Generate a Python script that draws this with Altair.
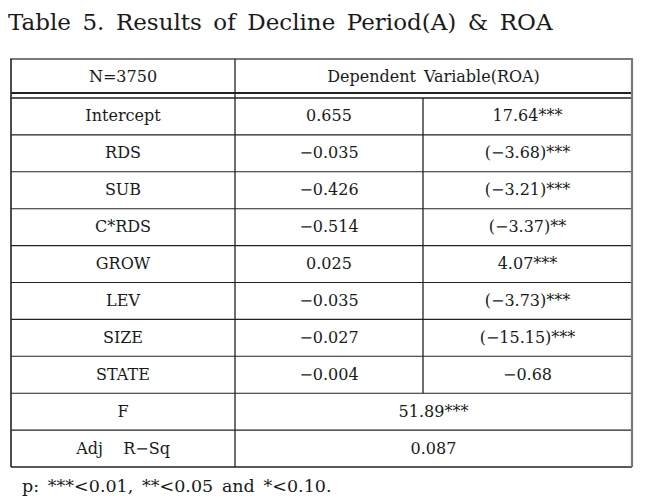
import altair as alt
import pandas as pd

# ---- data ----
title_text = "Table\u20025.\u2002Results\u2002of\u2002Decline\u2002Period(A)\u2002&\u2002ROA"
header_left = "N=3750"
header_right = "Dependent\u2002Variable(ROA)"
variables = ["Intercept", "RDS", "SUB", "C*RDS", "GROW", "LEV", "SIZE", "STATE"]
coefficients = ["0.655", "\u22120.035", "\u22120.426", "\u22120.514", "0.025", "\u22120.035", "\u22120.027", "\u22120.004"]
t_values = ["17.64***", "(\u22123.68)***", "(\u22123.21)***", "(\u22123.37)**", "4.07***",
            "(\u22123.73)***", "(\u221215.15)***", "\u22120.68"]
summary_labels = ["F", "Adj\u00a0\u00a0\u00a0\u00a0R\u2212Sq"]
summary_values = ["51.89***", "0.087"]
footnote = "p:\u2002***<0.01,\u2002**<0.05\u2002and\u2002*<0.10."

# ---- layout (page pixels) ----
W, H = 637, 488
X_L, X_C1, X_C2, X_R = 11, 235, 423, 632
Y_T, Y_H, Y_B0, Y_BOT = 59, 93, 98, 467
n_rows = len(variables) + len(summary_labels)
rh = (Y_BOT - Y_B0) / n_rows

texts = []
texts.append(dict(x=(X_L + X_C1) / 2, y=(Y_T + Y_H) / 2 + 1, t=header_left))
texts.append(dict(x=(X_C1 + X_R) / 2, y=(Y_T + Y_H) / 2 + 1, t=header_right))
for i, (v, c, tv) in enumerate(zip(variables, coefficients, t_values)):
    yc = Y_B0 + rh * (i + 0.5)
    texts.append(dict(x=(X_L + X_C1) / 2, y=yc, t=v))
    texts.append(dict(x=(X_C1 + X_C2) / 2, y=yc, t=c))
    texts.append(dict(x=(X_C2 + X_R) / 2, y=yc, t=tv))
for j, (lab, val) in enumerate(zip(summary_labels, summary_values)):
    yc = Y_B0 + rh * (len(variables) + j + 0.5)
    texts.append(dict(x=(X_L + X_C1) / 2, y=yc, t=lab))
    texts.append(dict(x=(X_C1 + X_R) / 2, y=yc, t=val))
cells = pd.DataFrame(texts)

left_texts = pd.DataFrame([
    dict(x=8, y=23, t=title_text, s=23),
    dict(x=22, y=487, t=footnote, s=17.5),
])

rules = []
rules.append(dict(x=X_L - 1, x2=X_R + 1, y=Y_T, y2=Y_T, c="#7a7a7a", w=2.2))
rules.append(dict(x=X_L, x2=X_R, y=Y_H, y2=Y_H, c="#222222", w=2))
rules.append(dict(x=X_L, x2=X_R, y=Y_B0, y2=Y_B0, c="#222222", w=1.5))
for k in range(1, n_rows):
    yy = Y_B0 + rh * k
    rules.append(dict(x=X_L, x2=X_R, y=yy, y2=yy, c="#222222", w=1.1))
rules.append(dict(x=X_L, x2=X_R, y=Y_BOT, y2=Y_BOT, c="#222222", w=1.6))
rules.append(dict(x=X_L, x2=X_L, y=Y_T, y2=Y_BOT, c="#222222", w=1.6))
rules.append(dict(x=X_C1, x2=X_C1, y=Y_T, y2=Y_BOT, c="#222222", w=1.3))
rules.append(dict(x=X_C2, x2=X_C2, y=Y_B0, y2=Y_B0 + rh * len(variables), c="#222222", w=1.3))
rules.append(dict(x=X_R, x2=X_R, y=Y_T, y2=Y_BOT, c="#7a7a7a", w=2.2))
rules_df = pd.DataFrame(rules)

xs = alt.Scale(domain=[8, 8 + W], range=[0, W])
ys = alt.Scale(domain=[8, 8 + H], range=[0, H])

rule_layer = alt.Chart(rules_df).mark_rule().encode(
    x=alt.X("x:Q", scale=xs, axis=None),
    x2="x2:Q",
    y=alt.Y("y:Q", scale=ys, axis=None),
    y2="y2:Q",
    color=alt.Color("c:N", scale=None),
    strokeWidth=alt.StrokeWidth("w:Q", scale=None),
)

cell_layer = alt.Chart(cells).mark_text(
    font="DejaVu Serif", fontSize=16, align="center", baseline="middle", color="#1a1a1a"
).encode(
    x=alt.X("x:Q", scale=xs, axis=None),
    y=alt.Y("y:Q", scale=ys, axis=None),
    text="t:N",
)

left_layer = alt.Chart(left_texts).mark_text(
    font="DejaVu Serif", align="left", baseline="middle", color="#1a1a1a"
).encode(
    x=alt.X("x:Q", scale=xs, axis=None),
    y=alt.Y("y:Q", scale=ys, axis=None),
    text="t:N",
    size=alt.Size("s:Q", scale=None),
)

chart = alt.layer(rule_layer, cell_layer, left_layer).properties(
    width=W, height=H, padding=0, autosize=alt.AutoSizeParams(type="none"),
    background="white",
).configure_view(stroke=None)

chart.save("out.html", embed_options={"renderer": "svg", "actions": False})
